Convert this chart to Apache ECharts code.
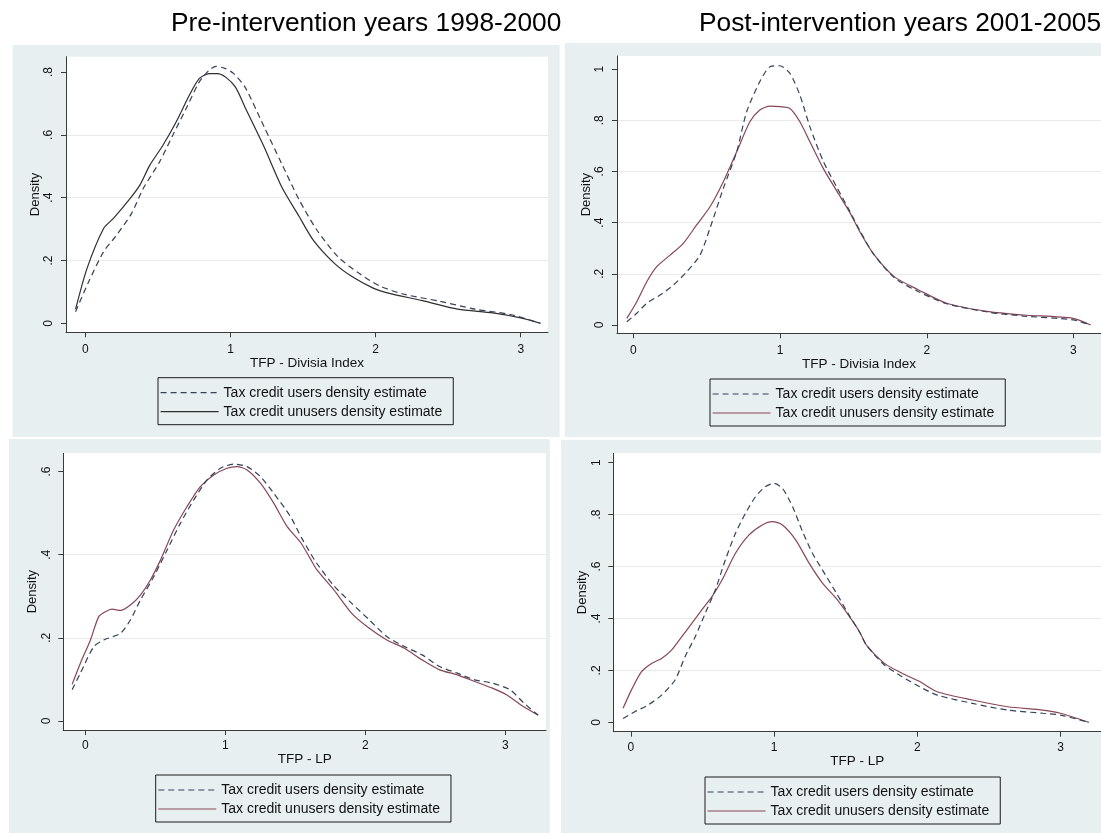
<!DOCTYPE html>
<html>
<head>
<meta charset="utf-8">
<title>TFP density estimates, tax credit users vs unusers</title>
<script src="https://cdn.jsdelivr.net/npm/echarts@6/dist/echarts.min.js"></script>
<style>
  html, body { margin: 0; padding: 0; background: #fff; }
  #chart { width: 1101px; height: 833px; }
</style>
</head>
<body>
<div id="chart"></div>
<script>
(function (echarts) {
  "use strict";

  var USERS = "Tax credit users density estimate";
  var UNUSERS = "Tax credit unusers density estimate";

  var periodTitles = ["Pre-intervention years 1998-2000", "Post-intervention years 2001-2005"];
  var xTitles = ["TFP - Divisia Index", "TFP - Divisia Index", "TFP - LP", "TFP - LP"];
  var xTicks = [0, 1, 2, 3];
  var yTicksTo08 = [0, 0.2, 0.4, 0.6, 0.8];
  var yTicksTo1 = [0, 0.2, 0.4, 0.6, 0.8, 1];
  var yTicksTo06 = [0, 0.2, 0.4, 0.6];

  // [TFP, density]
  var divisiaPreUsers = [
    [-0.068, 0.037], [0.02, 0.13], [0.125, 0.228], [0.205, 0.275], [0.318, 0.35], [0.398, 0.429],
    [0.511, 0.514], [0.602, 0.599], [0.693, 0.683], [0.784, 0.768], [0.85, 0.805], [0.9, 0.818],
    [0.96, 0.812], [1.02, 0.796], [1.1, 0.752], [1.231, 0.626], [1.352, 0.509], [1.473, 0.393],
    [1.595, 0.297], [1.74, 0.212], [1.886, 0.159], [2.032, 0.118], [2.201, 0.092],
    [2.444, 0.07], [2.687, 0.045], [2.93, 0.028], [3.136, 0]
  ];
  var divisiaPreUnusers = [
    [-0.068, 0.045], [0.011, 0.175], [0.125, 0.302], [0.193, 0.334], [0.307, 0.397], [0.375, 0.44],
    [0.443, 0.503], [0.534, 0.567], [0.625, 0.641], [0.716, 0.726], [0.784, 0.779], [0.852, 0.795],
    [0.909, 0.795], [0.966, 0.784], [1.034, 0.752], [1.109, 0.679], [1.231, 0.562], [1.352, 0.435],
    [1.473, 0.34], [1.57, 0.265], [1.716, 0.191], [1.837, 0.149],
    [1.983, 0.112], [2.08, 0.097], [2.323, 0.072], [2.566, 0.045], [2.808, 0.033], [3.0, 0.017], [3.136, 0]
  ];
  var divisiaPostUsers = [
    [-0.045, 0.013], [0.023, 0.046], [0.091, 0.085], [0.182, 0.117], [0.272, 0.156], [0.363, 0.208],
    [0.454, 0.273], [0.522, 0.378], [0.613, 0.534], [0.704, 0.677], [0.772, 0.833], [0.862, 0.951],
    [0.931, 1.009], [0.999, 1.013], [1.067, 0.983], [1.135, 0.898], [1.203, 0.775], [1.294, 0.64],
    [1.385, 0.54], [1.475, 0.445], [1.543, 0.37], [1.634, 0.28], [1.778, 0.185], [1.945, 0.13],
    [2.136, 0.083], [2.423, 0.05], [2.663, 0.035], [2.998, 0.02], [3.117, 0]
  ];
  var divisiaPostUnusers = [
    [-0.045, 0.026], [0.023, 0.091], [0.091, 0.169], [0.159, 0.228], [0.25, 0.273], [0.34, 0.319],
    [0.431, 0.391], [0.522, 0.462], [0.613, 0.56], [0.704, 0.677], [0.794, 0.794], [0.862, 0.84],
    [0.931, 0.855], [0.999, 0.853], [1.067, 0.846], [1.135, 0.794], [1.203, 0.716], [1.294, 0.612],
    [1.385, 0.525], [1.475, 0.44], [1.543, 0.365], [1.634, 0.28], [1.778, 0.189], [1.945, 0.137],
    [2.136, 0.085], [2.423, 0.052], [2.663, 0.039], [2.998, 0.026], [3.117, 0]
  ];
  var lpPreUsers = [
    [-0.095, 0.075], [-0.036, 0.115], [0.06, 0.179], [0.131, 0.195], [0.25, 0.211], [0.321, 0.243],
    [0.393, 0.291], [0.488, 0.347], [0.583, 0.411], [0.679, 0.476], [0.774, 0.532], [0.869, 0.58],
    [0.964, 0.608], [1.06, 0.618], [1.155, 0.612], [1.25, 0.588], [1.345, 0.548], [1.464, 0.492],
    [1.545, 0.44], [1.651, 0.38], [1.776, 0.325], [1.902, 0.283], [2.028, 0.243], [2.153, 0.203],
    [2.279, 0.179], [2.405, 0.159], [2.53, 0.131], [2.656, 0.115], [2.781, 0.099], [2.907, 0.091],
    [3.033, 0.075], [3.133, 0.043], [3.234, 0.014]
  ];
  var lpPreUnusers = [
    [-0.095, 0.088], [-0.036, 0.139], [0.036, 0.195], [0.095, 0.251], [0.143, 0.263], [0.19, 0.269],
    [0.25, 0.266], [0.321, 0.279], [0.393, 0.303], [0.464, 0.339], [0.536, 0.387], [0.631, 0.46],
    [0.726, 0.516], [0.821, 0.564], [0.917, 0.592], [1.012, 0.608], [1.083, 0.612], [1.155, 0.604],
    [1.25, 0.572], [1.345, 0.524], [1.44, 0.468], [1.536, 0.43], [1.607, 0.39], [1.651, 0.365],
    [1.776, 0.315], [1.902, 0.259], [2.028, 0.223], [2.153, 0.195], [2.279, 0.175], [2.405, 0.147],
    [2.53, 0.123], [2.656, 0.111], [2.781, 0.095], [2.907, 0.079], [3.008, 0.063], [3.108, 0.039], [3.234, 0.014]
  ];
  var lpPostUsers = [
    [-0.054, 0.015], [0.028, 0.041], [0.122, 0.067], [0.215, 0.105], [0.309, 0.163], [0.379, 0.253],
    [0.45, 0.33], [0.52, 0.42], [0.59, 0.51], [0.66, 0.625], [0.731, 0.728], [0.801, 0.805],
    [0.871, 0.869], [0.941, 0.908], [1.0, 0.92], [1.059, 0.901], [1.129, 0.831], [1.199, 0.735],
    [1.269, 0.65], [1.34, 0.585], [1.433, 0.5], [1.527, 0.41], [1.6, 0.345], [1.648, 0.295],
    [1.771, 0.221], [1.894, 0.176], [2.017, 0.137], [2.14, 0.105], [2.386, 0.073], [2.632, 0.047],
    [2.878, 0.035], [3.0, 0.028], [3.198, 0]
  ];
  var lpPostUnusers = [
    [-0.054, 0.054], [0.005, 0.125], [0.075, 0.195], [0.145, 0.227], [0.215, 0.246], [0.286, 0.279],
    [0.356, 0.33], [0.426, 0.381], [0.496, 0.433], [0.567, 0.484], [0.637, 0.548], [0.731, 0.651],
    [0.824, 0.721], [0.918, 0.76], [0.988, 0.773], [1.059, 0.76], [1.152, 0.702], [1.246, 0.612],
    [1.34, 0.535], [1.433, 0.478], [1.527, 0.407], [1.597, 0.349], [1.648, 0.295], [1.771, 0.227],
    [1.894, 0.189], [2.017, 0.157], [2.14, 0.118], [2.386, 0.086], [2.632, 0.06], [2.878, 0.047],
    [3.0, 0.035], [3.198, 0]
  ];

  var FONT = "'Liberation Sans', Arial, sans-serif";
  var DASH_COLOR = "#33415a";
  var MAROON = "#874656";

  // one entry per Stata panel: plot region, axis extents, backdrop, legend spot
  var panels = [
    { grid: [66, 56.7, 482, 275.6], x: [-0.134, 3.188], y: [-0.0287, 0.849], yTicks: yTicksTo08,
      bg: [12.6, 45, 547, 392], legend: [158, 377.7], solid: "#2e2e2e", nameGap: 22, margin: 11,
      users: divisiaPreUsers, unusers: divisiaPreUnusers },
    { grid: [617, 56, 484, 277.3], x: [-0.112, 3.188], y: [-0.0324, 1.051], yTicks: yTicksTo1,
      bg: [564.8, 43, 537, 394], legend: [710, 379], solid: MAROON, nameGap: 22, margin: 11,
      users: divisiaPostUsers, unusers: divisiaPostUnusers },
    { grid: [63.3, 453.3, 482.7, 276.7], x: [-0.158, 3.29], y: [-0.0217, 0.644], yTicks: yTicksTo06,
      bg: [8.8, 439, 541, 394], legend: [155.7, 775], solid: MAROON, nameGap: 21.5, margin: 9.5,
      users: lpPreUsers, unusers: lpPreUnusers },
    { grid: [613.3, 453.3, 487.7, 278.4], x: [-0.122, 3.283], y: [-0.036, 1.036], yTicks: yTicksTo1,
      bg: [561, 440, 540, 393], legend: [705, 777], solid: MAROON, nameGap: 21, margin: 9.5,
      users: lpPostUsers, unusers: lpPostUnusers }
  ];

  function yLabel(v) {
    if (v === 0) { return "0"; }
    return String(+v.toFixed(1)).replace(/^0\./, ".");
  }

  var option = {
    animation: false,
    backgroundColor: "#ffffff",
    title: [
      { text: periodTitles[0], left: 171, top: 11, padding: 0,
        textStyle: { fontFamily: FONT, fontSize: 26.3, fontWeight: "normal", color: "#000" } },
      { text: periodTitles[1], left: 699, top: 11, padding: 0,
        textStyle: { fontFamily: FONT, fontSize: 26.3, fontWeight: "normal", color: "#000" } }
    ],
    graphic: [],
    grid: [],
    xAxis: [],
    yAxis: [],
    legend: [],
    series: []
  };

  panels.forEach(function (p, i) {
    option.graphic.push({
      type: "rect", z: -10, silent: true,
      shape: { x: p.bg[0], y: p.bg[1], width: p.bg[2], height: p.bg[3] },
      style: { fill: "#e8eff1" }
    });

    option.grid.push({
      left: p.grid[0], top: p.grid[1], width: p.grid[2], height: p.grid[3],
      show: true, backgroundColor: "#ffffff", borderWidth: 0, containLabel: false
    });

    option.xAxis.push({
      type: "value", gridIndex: i, min: p.x[0], max: p.x[1],
      name: xTitles[i], nameLocation: "middle", nameGap: p.nameGap,
      nameTextStyle: { fontFamily: FONT, fontSize: 13.5, color: "#111" },
      axisLine: { show: true, onZero: false, lineStyle: { color: "#3a3a3a", width: 1 } },
      axisTick: { show: true, length: 5, customValues: xTicks, lineStyle: { color: "#3a3a3a" } },
      axisLabel: { customValues: xTicks, margin: p.margin, fontFamily: FONT, fontSize: 12, color: "#111" },
      splitLine: { show: false }
    });

    option.yAxis.push({
      type: "value", gridIndex: i, min: p.y[0], max: p.y[1], splitNumber: 4,
      name: "Density", nameLocation: "middle", nameGap: 22,
      nameTextStyle: { fontFamily: FONT, fontSize: 13, color: "#111" },
      axisLine: { show: true, onZero: false, lineStyle: { color: "#3a3a3a", width: 1 } },
      axisTick: { show: true, length: 5, customValues: p.yTicks, lineStyle: { color: "#3a3a3a" } },
      axisLabel: { customValues: p.yTicks, rotate: 90, margin: 11, formatter: yLabel,
        fontFamily: FONT, fontSize: 12, color: "#111" },
      splitLine: { show: true, showMinLine: false, showMaxLine: false,
        lineStyle: { color: "#e9e9e9", width: 1 } }
    });

    // legend keeps the line sample only, no marker dot
    option.legend.push({
      left: p.legend[0], top: p.legend[1], orient: "vertical",
      itemWidth: 58, itemHeight: 14, itemGap: 5, padding: [8, 11, 6, 2],
      borderColor: "#1a1a1a", borderWidth: 1, borderRadius: 0,
      backgroundColor: "transparent", selectedMode: false,
      textStyle: { fontFamily: FONT, fontSize: 14, color: "#111" },
      data: [
        { name: USERS, itemStyle: { opacity: 0 },
          lineStyle: { color: DASH_COLOR, type: [6, 4], width: 1.2 } },
        { name: UNUSERS, itemStyle: { opacity: 0 },
          lineStyle: { color: p.solid, type: "solid", width: 1.2 } }
      ]
    });

    option.series.push({
      name: USERS, type: "line", xAxisIndex: i, yAxisIndex: i,
      data: p.users, symbol: "none", smooth: 0.25, color: DASH_COLOR,
      lineStyle: { color: DASH_COLOR, width: 1.2, type: [6, 4] }, z: 3
    });
    option.series.push({
      name: UNUSERS, type: "line", xAxisIndex: i, yAxisIndex: i,
      data: p.unusers, symbol: "none", smooth: 0.25, color: p.solid,
      lineStyle: { color: p.solid, width: 1.2 }, z: 2
    });
  });

  var chart = echarts.init(document.getElementById("chart"), null, { renderer: "canvas" });
  chart.setOption(option);
})(echarts);
</script>
</body>
</html>
